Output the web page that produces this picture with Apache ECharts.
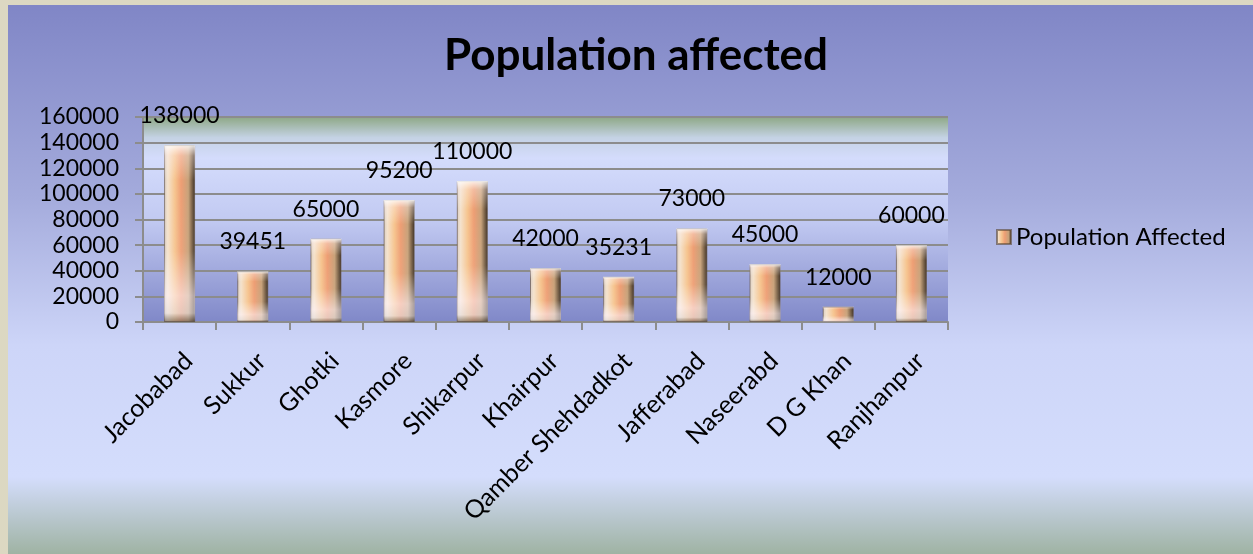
<!DOCTYPE html>
<html><head><meta charset="utf-8">
<script src="https://cdn.jsdelivr.net/npm/echarts@6/dist/echarts.min.js"></script>
<style>
html,body{margin:0;padding:0;background:#dcd8c2;width:1253px;height:554px;overflow:hidden;}
#chart{position:absolute;left:8px;top:5px;width:1245px;height:549px;}
</style></head>
<body><div id="chart"></div>
<script>
const categories = ["Jacobabad","Sukkur","Ghotki","Kasmore","Shikarpur","Khairpur","Qamber Shehdadkot","Jafferabad","Naseerabd","D G Khan","Ranjhanpur"];
const populationAffected = [138000, 39451, 65000, 95200, 110000, 42000, 35231, 73000, 45000, 12000, 60000];
const seriesName = "Population Affected";
const titleText = "Population affected";

const font = "Lato, 'Open Sans', sans-serif";
const chart = echarts.init(document.getElementById('chart'));
const barFill = new echarts.graphic.LinearGradient(0,0,1,0,[
  {offset:0,color:'#d8ccc4'},{offset:0.12,color:'#f4e2cc'},{offset:0.35,color:'#f6c48e'},
  {offset:0.55,color:'#ee9e74'},{offset:0.78,color:'#c8a27a'},{offset:0.9,color:'#7a6248'},{offset:1,color:'#3c3026'}]);
const barShine = new echarts.graphic.LinearGradient(0,0,0,1,[
  {offset:0,color:'rgba(255,255,255,0.85)'},{offset:0.06,color:'rgba(255,240,240,0.35)'},
  {offset:0.2,color:'rgba(255,255,255,0.0)'},{offset:0.6,color:'rgba(255,255,255,0.05)'},
  {offset:0.85,color:'rgba(255,245,255,0.55)'},{offset:0.95,color:'rgba(230,225,230,0.6)'},{offset:1,color:'rgba(90,80,70,0.6)'}]);
chart.setOption({
  backgroundColor: new echarts.graphic.LinearGradient(0,0,0,1,[
    {offset:0,color:'#8086c6'},{offset:0.35,color:'#a4abdc'},{offset:0.62,color:'#cdd5f8'},
    {offset:0.86,color:'#d4ddfc'},{offset:1,color:'#9fb3a3'}]),
  title:{text:titleText,left:623,top:24,textAlign:'center',textStyle:{fontFamily:font,fontWeight:'bold',fontSize:44,color:'#000'}},
  legend:{data:[seriesName],left:983,top:215,itemWidth:14,itemHeight:14,itemGap:6,
    textStyle:{fontFamily:font,fontSize:24,color:'#000'},icon:'rect'},
  grid:{left:135,right:305,top:112,bottom:232,show:true,borderWidth:0,
    backgroundColor:new echarts.graphic.LinearGradient(0,0,0,1,[
      {offset:0,color:'#8ea886'},{offset:0.1,color:'#c4d2e4'},{offset:0.2,color:'#d4dcfc'},
      {offset:0.5,color:'#c2caf2'},{offset:1,color:'#8088c8'}])},
  xAxis:{type:'category',data:categories,
    axisLine:{lineStyle:{color:'#8c8c8c',width:2}},
    axisTick:{show:true,length:8,lineStyle:{color:'#8c8c8c',width:2}},
    axisLabel:{rotate:45,interval:0,margin:26,verticalAlign:'top',fontFamily:font,fontSize:25,color:'#000'}},
  yAxis:{type:'value',min:0,max:160000,interval:20000,
    axisLine:{show:true,lineStyle:{color:'#8c8c8c',width:2}},
    axisTick:{show:true,length:8,lineStyle:{color:'#8c8c8c',width:2}},
    splitLine:{lineStyle:{color:'#8c8c8c',width:2}},
    axisLabel:{margin:24,formatter:function(v){return String(v);},fontFamily:font,fontSize:23,color:'#000'}},
  series:[
    {name:seriesName,type:'bar',data:populationAffected,barWidth:31,
      itemStyle:{color:barFill,borderColor:'rgba(90,70,50,0.6)',borderWidth:1},
      label:{show:true,position:'top',distance:18,fontFamily:font,fontSize:23,color:'#000'},z:2},
    {name:'shine',type:'bar',data:populationAffected,barWidth:31,barGap:'-100%',
      itemStyle:{color:barShine},silent:true,z:3}
  ]
});
</script></body></html>
